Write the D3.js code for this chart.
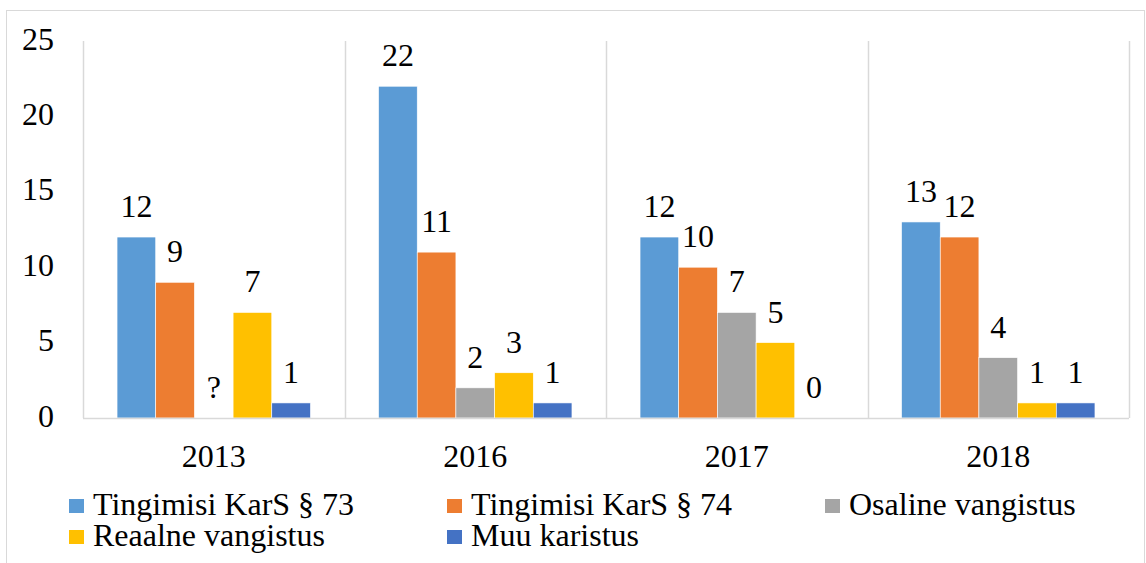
<!DOCTYPE html>
<html>
<head>
<meta charset="utf-8">
<script src="https://cdn.jsdelivr.net/npm/d3@7"></script>
<style>
  svg text { font-family: "Liberation Serif", "Times New Roman", serif !important; }
</style>
</head>
<body style="margin:0">
<script>
///// DATA /////
const years = ["2013", "2016", "2017", "2018"];
const seriesNames = ["Tingimisi KarS § 73", "Tingimisi KarS § 74", "Osaline vangistus", "Reaalne vangistus", "Muu karistus"];
const seriesColors = ["#5B9BD5", "#ED7D31", "#A5A5A5", "#FFC000", "#4472C4"];
// one array per series, values per year; null = unknown ("?")
const tingimisi73 = [12, 22, 12, 13];
const tingimisi74 = [9, 11, 10, 12];
const osaline = [null, 2, 7, 4];
const reaalne = [7, 3, 5, 1];
const muu = [1, 1, 0, 1];
const yTicks = [0, 5, 10, 15, 20, 25];

const seriesValues = [tingimisi73, tingimisi74, osaline, reaalne, muu];

///// CHART /////
const width = 1146, height = 563;
const margin = { left: 83, right: 17, top: 41, bottom: 145 };
const fontFamily = '"Liberation Serif"';
const fontSize = "32px";

// helper: serif text styling
function serif(sel) {
    return sel.attr("font-family", "Liberation Serif")
        .style("font-family", fontFamily)
        .style("font-size", fontSize)
        .attr("fill", "#000");
}

const svg = d3.select("body").append("svg")
    .attr("width", width)
    .attr("height", height)
    .attr("font-family", "Liberation Serif");

// outer frame
svg.append("rect")
    .attr("x", 6.5).attr("y", 10.5)
    .attr("width", 1138).attr("height", 560)
    .attr("fill", "none")
    .attr("stroke", "#d9d9d9");

const x0 = d3.scaleBand()
    .domain(years)
    .range([margin.left, width - margin.right]);

const x1 = d3.scaleBand()
    .domain(d3.range(seriesNames.length))
    .range([0, x0.bandwidth()])
    .paddingOuter(0.88);

const y = d3.scaleLinear()
    .domain([0, 25])
    .range([height - margin.bottom, margin.top]);

// vertical separators between categories
svg.append("g")
    .selectAll("line")
    .data(years.map(d => x0(d)).concat([x0.range()[1]]))
    .join("line")
    .attr("x1", d => Math.round(d) + 0.5)
    .attr("x2", d => Math.round(d) + 0.5)
    .attr("y1", y(25))
    .attr("y2", y(0))
    .attr("stroke", "#d9d9d9")
    .attr("stroke-width", 1.5);

// bars
const groups = svg.append("g")
    .selectAll("g")
    .data(years)
    .join("g")
    .attr("transform", d => `translate(${x0(d)},0)`);

groups.selectAll("rect")
    .data((d, i) => seriesValues.map((s, k) => ({ k, v: s[i] })))
    .join("rect")
    .attr("x", d => x1(d.k))
    .attr("width", x1.bandwidth())
    .attr("y", d => y(d.v || 0))
    .attr("height", d => y(0) - y(d.v || 0))
    .attr("fill", d => seriesColors[d.k])
    .attr("stroke", "#fff")
    .attr("stroke-width", 0.6);

// value labels
groups.selectAll("text")
    .data((d, i) => seriesValues.map((s, k) => ({ k, v: s[i] })))
    .join("text")
    .attr("x", d => x1(d.k) + x1.bandwidth() / 2)
    .attr("y", d => y(d.v || 0) - 20)
    .attr("text-anchor", "middle")
    .call(serif)
    .text(d => d.v === null ? "?" : d.v);

// x axis line
svg.append("line")
    .attr("x1", x0.range()[0]).attr("x2", x0.range()[1])
    .attr("y1", y(0) + 0.5).attr("y2", y(0) + 0.5)
    .attr("stroke", "#d9d9d9")
    .attr("stroke-width", 1.5);

// y axis
const yAxis = svg.append("g")
    .attr("transform", `translate(${margin.left - 29},0)`)
    .call(d3.axisLeft(y).tickValues(yTicks).tickSize(0).tickPadding(0));
yAxis.attr("font-family", "Liberation Serif");
yAxis.select(".domain").remove();
yAxis.selectAll("text")
    .call(serif)
    .attr("dy", "0.25em");

// x axis labels
const xAxis = svg.append("g")
    .attr("transform", `translate(0,${y(0)})`)
    .call(d3.axisBottom(x0).tickSize(0).tickPadding(0));
xAxis.attr("font-family", "Liberation Serif");
xAxis.select(".domain").remove();
xAxis.selectAll("text")
    .call(serif)
    .attr("dy", null)
    .attr("y", 49);

// legend
const legendPos = [[69, 515], [447, 515], [825, 515], [69, 546], [447, 546]];
const legend = svg.append("g")
    .selectAll("g")
    .data(seriesNames)
    .join("g")
    .attr("transform", (d, i) => `translate(${legendPos[i][0]},${legendPos[i][1]})`);

legend.append("rect")
    .attr("x", 0).attr("y", -16)
    .attr("width", 15).attr("height", 14)
    .attr("fill", (d, i) => seriesColors[i]);

legend.append("text")
    .attr("x", 24)
    .attr("y", 0)
    .call(serif)
    .text(d => d);
</script>
</body>
</html>
